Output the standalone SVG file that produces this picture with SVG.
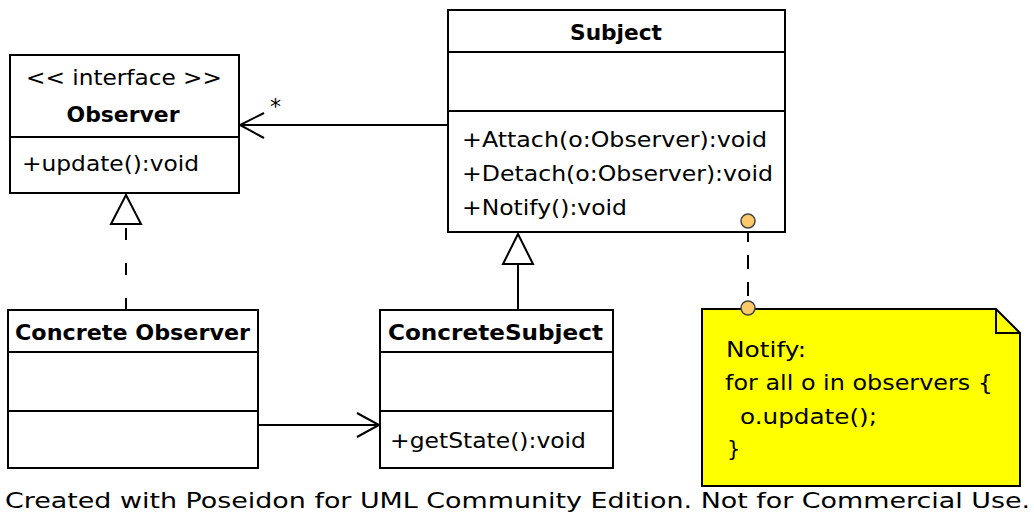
<svg xmlns="http://www.w3.org/2000/svg" width="1034" height="516" viewBox="0 0 1034 516">
<style>
.box{fill:#fff;stroke:#000;stroke-width:2}
.ln{stroke:#000;stroke-width:2;fill:none}
.dash{stroke:#000;stroke-width:2;fill:none}
.t{font-family:"DejaVu Sans",sans-serif;font-size:21px;fill:#000}
.b{font-family:"DejaVu Sans",sans-serif;font-size:21px;font-weight:bold;fill:#000}
.pin{fill:#fbc96a;stroke:#444;stroke-width:1.5}
</style>
<rect width="1034" height="516" fill="#fff"/>
<g id="connectors">
  <line class="ln" x1="448" y1="125" x2="240" y2="125"/>
  <polyline class="ln" points="264,113 240,125 264,138"/>
  <text class="t" x="270" y="114" style="font-size:22px">*</text>
  <line class="dash" x1="126" y1="310" x2="126" y2="226" style="stroke-dasharray:12 23"/>
  <polygon class="box" points="126,195 111,224 141,224"/>
  <line class="ln" x1="518" y1="310" x2="518" y2="264"/>
  <polygon class="box" points="518,234 503,264 533,264"/>
  <line class="ln" x1="258" y1="425" x2="379" y2="425"/>
  <polyline class="ln" points="357,413 379,425 357,437"/>
  <line class="dash" x1="748" y1="228" x2="748" y2="302" style="stroke-dasharray:14 13"/>
</g>
<g id="observer">
  <rect class="box" x="10" y="55" width="229" height="138"/>
  <line class="ln" x1="10" y1="137" x2="239" y2="137"/>
  <text class="t" x="124" y="85" text-anchor="middle" textLength="196" lengthAdjust="spacingAndGlyphs">&lt;&lt; interface &gt;&gt;</text>
  <text class="b" x="123" y="122" text-anchor="middle" textLength="113" lengthAdjust="spacingAndGlyphs">Observer</text>
  <text class="t" x="22" y="171" textLength="177" lengthAdjust="spacingAndGlyphs">+update():void</text>
</g>
<g id="subject">
  <rect class="box" x="448" y="10" width="337" height="222"/>
  <line class="ln" x1="448" y1="52" x2="785" y2="52"/>
  <line class="ln" x1="448" y1="111" x2="785" y2="111"/>
  <text class="b" x="616" y="40" text-anchor="middle" textLength="92" lengthAdjust="spacingAndGlyphs">Subject</text>
  <text class="t" x="462" y="147" textLength="305" lengthAdjust="spacingAndGlyphs">+Attach(o:Observer):void</text>
  <text class="t" x="462" y="181" textLength="311" lengthAdjust="spacingAndGlyphs">+Detach(o:Observer):void</text>
  <text class="t" x="462" y="215" textLength="165" lengthAdjust="spacingAndGlyphs">+Notify():void</text>
</g>
<g id="concrete-observer">
  <rect class="box" x="8" y="310" width="250" height="158"/>
  <line class="ln" x1="8" y1="352" x2="258" y2="352"/>
  <line class="ln" x1="8" y1="411" x2="258" y2="411"/>
  <text class="b" x="15" y="340" textLength="235" lengthAdjust="spacingAndGlyphs">Concrete Observer</text>
</g>
<g id="concrete-subject">
  <rect class="box" x="380" y="310" width="233" height="158"/>
  <line class="ln" x1="380" y1="352" x2="613" y2="352"/>
  <line class="ln" x1="380" y1="411" x2="613" y2="411"/>
  <text class="b" x="388" y="340" textLength="215" lengthAdjust="spacingAndGlyphs">ConcreteSubject</text>
  <text class="t" x="390" y="448" textLength="196" lengthAdjust="spacingAndGlyphs">+getState():void</text>
</g>
<g id="note">
  <path d="M702,309 H996 L1020,333 V486 H702 Z" fill="#ffff00" stroke="#000" stroke-width="2"/>
  <path d="M996,309 V333 H1020" fill="none" stroke="#000" stroke-width="2"/>
  <text class="t" x="726" y="357" textLength="80" lengthAdjust="spacingAndGlyphs">Notify:</text>
  <text class="t" x="725" y="390" textLength="268" lengthAdjust="spacingAndGlyphs">for all o in observers {</text>
  <text class="t" x="740" y="424" textLength="137" lengthAdjust="spacingAndGlyphs">o.update();</text>
  <text class="t" x="727" y="456">}</text>
</g>
<g id="pins">
  <circle class="pin" cx="748" cy="221" r="7"/>
  <circle class="pin" cx="748" cy="308" r="7"/>
</g>
<text class="t" x="5" y="508" style="font-size:22px" textLength="1025" lengthAdjust="spacingAndGlyphs">Created with Poseidon for UML Community Edition. Not for Commercial Use.</text>
</svg>
